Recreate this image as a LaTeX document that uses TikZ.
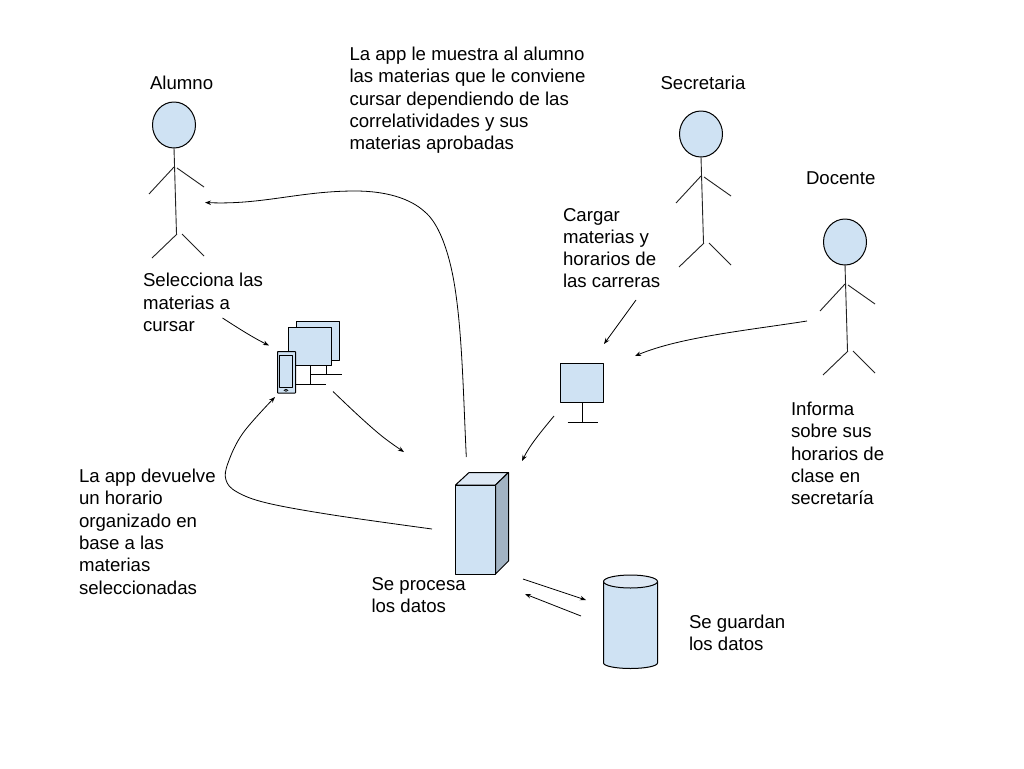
\documentclass[tikz,border=0pt]{standalone}
\usepackage{fontspec}
\setmainfont{Liberation Sans}
\usetikzlibrary{arrows.meta}
\definecolor{fillblue}{HTML}{CFE2F3}
\definecolor{sideblue}{HTML}{A2B3C3}
\definecolor{topblue}{HTML}{DDE8F4}
\definecolor{linegray}{HTML}{222222}
\tikzset{
  shapeline/.style={draw=black,line width=1pt,fill=fillblue,line join=round},
  limb/.style={draw=linegray,line width=0.9pt},
  flow/.style={draw=black,line width=0.8pt,-{Stealth[length=6pt,width=4.5pt]}},
  lbl/.style={anchor=north west,align=left,inner sep=0pt,outer sep=0pt,font=\fontsize{18.62}{22.3}\selectfont,text=black},
  actor/.pic={
    \draw[shapeline] (0,0) ellipse [x radius=21.5,y radius=23];
    \draw[limb] (0,23) -- (2.5,109);
    \draw[limb] (0,42) -- (-25,69);
    \draw[limb] (3,43) -- (30,62);
    \draw[limb] (3,109) -- (-22,133);
    \draw[limb] (8,109) -- (30,131);
  }
}
\begin{document}
\begin{tikzpicture}[x=1pt,y=-1pt]
\useasboundingbox[fill=white] (0,0) rectangle (1024,768);

% actors
\pic at (174,125) {actor};
\pic at (701,134) {actor};
\pic at (845,242) {actor};

% texts
\node[lbl] (alumno) at (150,76.5) {Alumno};
\node[lbl] (secretaria) at (660.5,76.5) {Secretaria};
\node[lbl] (docente) at (806,172) {Docente};
\node[lbl] (tapp) at (349.5,47) {La app le muestra al alumno\\las materias que le conviene\\cursar dependiendo de las\\correlatividades y sus\\materias aprobadas};
\node[lbl] (tsel) at (143,273.5) {Selecciona las\\materias a\\cursar};
\node[lbl] (tcar) at (563,208) {Cargar\\materias y\\horarios de\\las carreras};
\node[lbl] (tinf) at (791,402) {Informa\\sobre sus\\horarios de\\clase en\\secretaría};
\node[lbl] (tdev) at (79,469) {La app devuelve\\un horario\\organizado en\\base a las\\materias\\seleccionadas};
\node[lbl] (tpro) at (371.5,577) {Se procesa\\los datos};
\node[lbl] (tgua) at (689,614.5) {Se guardan\\los datos};

% workstation group
\draw[shapeline] (296,321) rectangle (339.5,360);
\draw[shapeline] (288.5,327) rectangle (331.5,365.5);
\draw[limb,draw=black] (326,365.5) -- (326,374);
\draw[limb,draw=black] (311,374) -- (342,374);
\draw[limb,draw=black] (310.5,365.5) -- (310.5,384);
\draw[limb,draw=black] (296,384.5) -- (325.5,384.5);
\draw[shapeline,rounded corners=0.5pt] (277.5,351.5) rectangle (295.5,393);
\draw[shapeline] (279.5,355.5) rectangle (292.5,387);
\draw[draw=black,line width=0.7pt] (286,390.3) ellipse [x radius=1.8,y radius=1];

% monitor
\draw[shapeline] (560.5,363.5) rectangle (603.5,402.5);
\draw[limb,draw=black] (582,402.5) -- (582,422);
\draw[limb,draw=black] (567.5,422) -- (597.5,422);

% server
\draw[shapeline,fill=topblue] (455.5,485) -- (469,472.5) -- (508.5,472.5) -- (495.5,485) -- cycle;
\draw[shapeline,fill=sideblue] (495.5,485) -- (508.5,472.5) -- (508.5,561) -- (495.5,574) -- cycle;
\draw[shapeline] (455.5,485) rectangle (495.5,574);

% database
\draw[shapeline] (603.5,581.5) -- (603.5,663) arc [start angle=180,end angle=0,x radius=27,y radius=5.5] -- (657.5,581.5) -- cycle;
\draw[shapeline,fill=topblue] (630.5,581.5) ellipse [x radius=27,y radius=6.5];

% connector end points
\coordinate (a1) at (466.3,457);
\coordinate (a2) at (205,202.5);
\coordinate (b1) at (222.5,318);
\coordinate (b2) at (269,345.5);
\coordinate (c1) at (333,391.5);
\coordinate (c2) at (404,452);
\coordinate (d1) at (432,529);
\coordinate (d2) at (275,397);
\coordinate (e1) at (554,416);
\coordinate (e2) at (522,461);
\coordinate (f1) at (636,300);
\coordinate (f2) at (604,344);
\coordinate (g1) at (807,321);
\coordinate (g2) at (635,356);
\coordinate (h1) at (523,579);
\coordinate (h2) at (586,600);
\coordinate (i1) at (581,616);
\coordinate (i2) at (525,594);

% connectors
\draw[flow] (a1) .. controls (463,390) and (462,310) .. (450,263) .. controls (445,243) and (437,222) .. (425,212) .. controls (410,198) and (385,191) .. (355,191) .. controls (300,191) and (262,205) .. (a2);
\draw[flow] (b1) .. controls (238,328) and (252,337) .. (b2);
\draw[flow] plot[smooth,tension=0.6] coordinates {(c1) (360,417) (383,437) (c2)};
\draw[flow] plot[smooth,tension=0.6] coordinates {(d1) (333,515) (267,503) (237,492) (226,480) (228,463) (243,433) (d2)};
\draw[flow] (e1) .. controls (540,433) and (530,445) .. (e2);
\draw[flow] (f1) -- (f2);
\draw[flow] (g1) .. controls (750,330) and (680,337) .. (g2);
\draw[flow] (h1) -- (h2);
\draw[flow] (i1) -- (i2);
\end{tikzpicture}
\end{document}
